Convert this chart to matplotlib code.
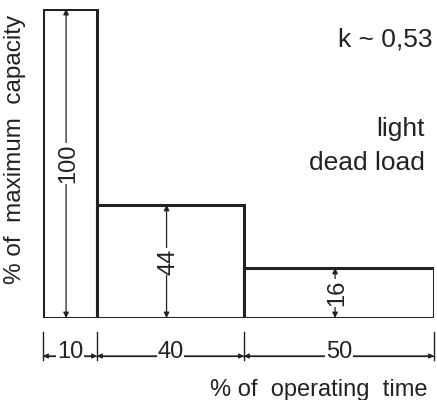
import numpy as np
import matplotlib
matplotlib.use("Agg")
from matplotlib import pyplot as plt

# bar sizes as drawn in the sketch (schematic, not to scale with the labels)
drawn_widths = [13.8, 37.6, 48.6]
drawn_heights = [100, 36.6, 16.2]
# dimension labels written on the sketch
height_labels = ["100", "44", "16"]
width_labels = ["10", "40", "50"]

plt.rcParams['font.family'] = ['Liberation Sans', 'DejaVu Sans']
ink = '#222222'

fig = plt.figure(figsize=(4.37, 4.00), dpi=100)
W, H = 437.0, 400.0
ax = fig.add_axes([43 / W, (H - 318) / H, (434 - 43) / W, (318 - 9) / H])
ax.set_xlim(0, 100)
ax.set_ylim(0, 100)
ax.axis('off')

lefts = np.concatenate([[0], np.cumsum(drawn_widths)[:-1]])
ax.bar(lefts, drawn_heights, width=drawn_widths, align='edge',
       facecolor='white', edgecolor=ink, linewidth=2.2)

# vertical dimension arrows with labels inside the bars
for x0, w, h, lab in zip(lefts, drawn_widths, drawn_heights, height_labels):
    xc = x0 + w / 2 - 1.0
    ax.annotate('', xy=(xc, h), xytext=(xc, 0),
                arrowprops=dict(arrowstyle='<|-|>', color=ink, lw=0.9,
                                mutation_scale=8, shrinkA=0, shrinkB=0))
    ax.text(xc + 0.6, h / 2, lab, rotation=90, ha='center', va='center',
            fontsize=17, color=ink,
            bbox=dict(facecolor='white', edgecolor='none', pad=0.5))

# horizontal dimension line below the bars
edges = np.concatenate([[0], np.cumsum(drawn_widths)])
for e in edges:
    ax.plot([e, e], [-4.5, -13.5], color=ink, lw=1.0, clip_on=False)
ax.plot([edges[0], edges[-1]], [-12.3, -12.3], color=ink, lw=0.9,
        clip_on=False)
for x0, w, lab in zip(lefts, drawn_widths, width_labels):
    ax.annotate('', xy=(x0, -12.3), xytext=(x0 + w / 2, -12.3),
                arrowprops=dict(arrowstyle='-|>', color=ink, lw=0.9,
                                mutation_scale=7, shrinkA=0, shrinkB=0),
                annotation_clip=False)
    ax.annotate('', xy=(x0 + w, -12.3), xytext=(x0 + w / 2, -12.3),
                arrowprops=dict(arrowstyle='-|>', color=ink, lw=0.9,
                                mutation_scale=7, shrinkA=0, shrinkB=0),
                annotation_clip=False)
    ax.text(x0 + w / 2, -11, lab, ha='center', va='center', fontsize=17,
            color=ink, clip_on=False,
            bbox=dict(facecolor='white', edgecolor='none', pad=0.5))

fig.text(15 / W, 1 - 149 / H, '% of  maximum  capacity', rotation=90,
         ha='center', va='center', fontsize=17.5, color=ink)
fig.text(428 / W, 1 - 390 / H, '% of  operating  time', ha='right',
         va='center', fontsize=17, color=ink)
fig.text(433 / W, 1 - 40 / H, 'k ~ 0,53', ha='right', va='center',
         fontsize=19, color=ink)
fig.text(425 / W, 1 - 146 / H, 'light\ndead load', ha='right', va='center',
         multialignment='right', fontsize=19, color=ink, linespacing=1.5)

fig.savefig('out.png', dpi=100)
